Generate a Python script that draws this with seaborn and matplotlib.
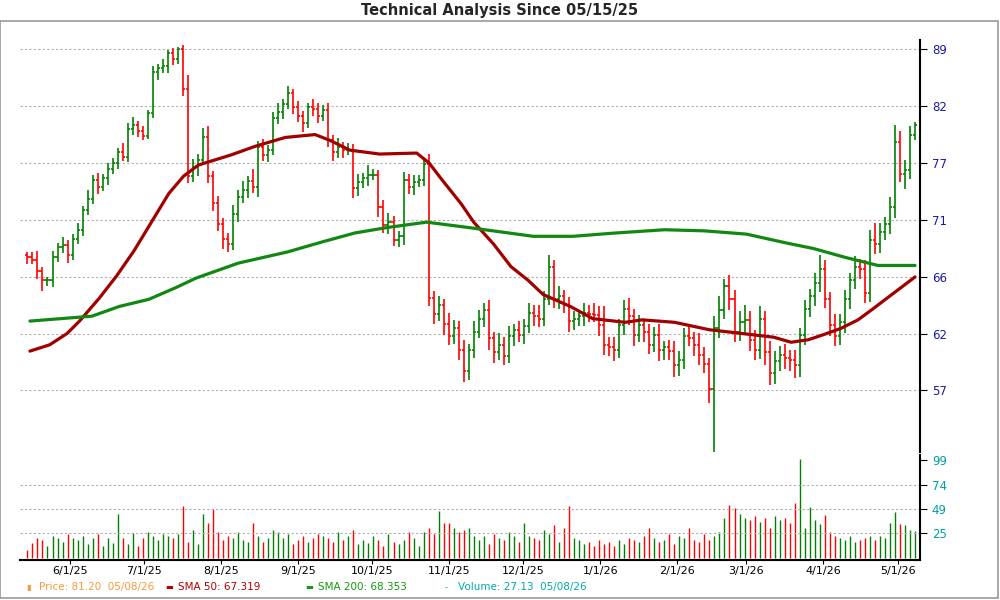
import matplotlib
matplotlib.use("Agg")
import matplotlib.pyplot as plt
import matplotlib.dates as mdates
import numpy as np
import pandas as pd
import seaborn as sns

# closes, about one bar per 5 px
closes = [67.8, 67.6, 66.6, 65.8, 65.8, 67.8, 68.7, 68.9, 68.0, 69.5,
          70.3, 72.1, 73.2, 75.0, 74.3, 75.2, 76.1, 76.7, 77.8, 77.3,
          80.2, 80.6, 80.0, 79.5, 81.9, 86.4, 86.8, 87.0, 88.5, 87.8,
          89.0, 84.5, 75.4, 76.3, 77.0, 79.3, 75.4, 72.8, 70.8, 69.5,
          69.0, 71.8, 73.4, 74.0, 74.9, 74.3, 78.3, 77.5, 78.0, 81.3,
          82.0, 82.8, 84.0, 82.5, 81.5, 80.8, 82.5, 82.3, 81.6, 82.2,
          79.0, 77.8, 78.3, 78.0, 78.0, 74.2, 74.8, 75.2, 75.5, 75.5,
          72.4, 70.7, 71.0, 69.4, 69.7, 75.0, 74.3, 74.8, 75.0, 76.6,
          64.3, 63.0, 63.7, 62.2, 61.2, 61.8, 60.1, 58.5, 60.1, 61.5,
          62.6, 63.3, 61.0, 59.9, 60.5, 59.6, 61.2, 61.7, 61.3, 62.0,
          63.1, 62.8, 62.6, 64.2, 67.0, 64.2, 64.5, 63.7, 62.4, 62.6,
          62.8, 63.1, 63.0, 62.9, 62.1, 60.5, 60.3, 60.1, 62.1, 63.4,
          62.8, 61.3, 62.1, 61.5, 60.5, 61.3, 60.1, 60.3, 60.0, 58.9,
          59.3, 61.2, 61.0, 60.5, 59.7, 59.0, 57.1, 61.8, 63.3, 65.3,
          64.2, 61.5, 62.3, 62.5, 60.9, 60.1, 62.6, 59.9, 58.3, 59.2,
          59.7, 59.5, 59.3, 58.9, 61.3, 63.4, 64.5, 65.6, 66.8, 64.2,
          62.1, 61.2, 62.3, 64.2, 65.8, 67.0, 66.8, 64.7, 69.4, 69.0,
          70.1, 70.8, 72.4, 78.8, 75.6, 76.0, 79.6, 80.6]

wick_up = [0.3, 0.5, 0.8, 0.4, 0.3, 0.6, 0.4, 0.7, 0.5, 0.4,
           0.6, 0.4, 0.8, 0.5, 0.7, 0.4, 0.6, 0.5, 0.4, 0.9,
           0.6, 0.8, 0.4, 0.5, 0.3, 0.6, 0.5, 0.9, 0.4, 0.6,
           0.2, 0.5, 1.5, 0.8, 0.6, 1.0, 1.2, 0.5, 0.7, 0.6,
           0.5, 0.8, 0.6, 0.9, 0.5, 1.2, 0.6, 0.8, 0.5, 0.7,
           0.9, 0.6, 0.8, 0.5, 0.7, 0.6, 0.5, 0.9, 0.6, 0.5,
           0.8, 0.6, 0.9, 0.5, 0.7, 0.6, 0.8, 0.5, 1.0, 0.6,
           0.5, 0.7, 0.9, 0.6, 0.5, 0.8, 0.6, 0.7, 0.5, 0.6,
           1.0, 0.6, 0.8, 0.5, 0.9, 0.7, 0.6, 0.8, 0.5, 0.9,
           0.7, 0.6, 0.8, 0.5, 0.9, 0.6, 0.8, 0.5, 0.7, 0.6,
           0.8, 0.6, 0.9, 0.7, 1.0, 0.6, 0.8, 0.5, 0.7, 0.6,
           0.5, 0.8, 0.6, 0.9, 0.7, 1.5, 0.6, 0.8, 0.5, 0.7,
           0.9, 0.6, 0.8, 0.5, 0.7, 0.6, 0.9, 0.5, 0.6, 0.8,
           0.7, 0.6, 0.8, 0.5, 0.9, 0.6, 0.5, 1.0, 1.2, 0.6,
           1.0, 0.8, 0.9, 1.2, 0.7, 0.8, 1.0, 0.6, 0.9, 0.8,
           0.7, 0.9, 0.6, 0.8, 0.5, 0.7, 0.6, 0.8, 1.2, 0.8,
           0.6, 0.9, 0.7, 0.8, 0.6, 0.9, 0.7, 0.8, 0.9, 1.5,
           0.8, 0.7, 1.0, 1.8, 1.2, 1.0, 0.9, 0.3]

wick_dn = [0.6, 0.4, 0.7, 0.9, 0.5, 0.6, 0.4, 0.5, 0.7, 0.4,
           0.5, 0.6, 0.4, 0.5, 0.6, 0.4, 0.7, 0.5, 0.6, 0.4,
           0.5, 0.6, 0.7, 0.5, 0.4, 0.6, 0.9, 0.5, 0.7, 0.6,
           0.5, 0.8, 0.7, 0.6, 0.9, 0.5, 0.7, 0.8, 0.6, 0.9,
           0.7, 0.5, 0.8, 0.6, 0.7, 0.5, 0.9, 0.6, 0.7, 0.5,
           0.6, 0.8, 0.5, 0.7, 0.6, 0.9, 0.5, 0.7, 0.8, 0.6,
           0.7, 0.9, 0.6, 0.8, 0.5, 0.9, 0.7, 0.6, 0.8, 0.5,
           0.9, 0.7, 0.8, 0.6, 0.7, 0.8, 0.6, 0.7, 0.5, 0.6,
           0.7, 0.8, 0.6, 0.9, 0.7, 0.6, 0.8, 0.9, 0.7, 0.6,
           0.5, 0.7, 0.9, 0.8, 0.6, 0.7, 0.5, 0.8, 0.6, 0.7,
           0.6, 0.8, 0.7, 0.6, 0.5, 0.7, 0.8, 0.6, 0.9, 0.7,
           0.6, 0.8, 0.7, 0.6, 0.9, 0.8, 0.7, 0.9, 0.6, 0.8,
           0.7, 0.9, 0.6, 0.8, 0.7, 0.6, 0.9, 0.8, 0.7, 0.9,
           0.8, 0.7, 0.6, 0.9, 0.8, 0.7, 1.0, 5.2, 0.8, 0.7,
           0.9, 0.8, 0.7, 1.0, 0.9, 0.8, 0.7, 1.0, 0.9, 0.8,
           0.7, 0.9, 0.8, 1.0, 0.9, 0.8, 0.7, 0.9, 0.8, 0.7,
           0.9, 0.8, 0.7, 0.9, 0.8, 0.7, 0.9, 0.8, 0.7, 0.9,
           0.8, 0.7, 0.9, 1.0, 0.8, 1.5, 0.9, 0.6]

volume = [8, 15, 20, 18, 12, 22, 20, 16, 24, 20,
          18, 22, 14, 20, 24, 12, 20, 15, 44, 20,
          14, 25, 12, 20, 26, 22, 18, 24, 22, 20,
          24, 52, 16, 28, 14, 44, 35, 49, 26, 18,
          22, 20, 26, 18, 16, 35, 22, 16, 20, 28,
          26, 20, 24, 14, 18, 22, 16, 20, 24, 22,
          20, 16, 26, 18, 22, 28, 14, 18, 15, 22,
          18, 12, 24, 16, 14, 18, 26, 20, 12, 26,
          30, 24, 47, 35, 35, 30, 26, 28, 30, 22,
          18, 22, 14, 24, 20, 18, 26, 22, 16, 35,
          22, 20, 18, 28, 24, 33, 16, 30, 52, 20,
          18, 14, 16, 12, 18, 14, 16, 12, 18, 14,
          20, 18, 16, 22, 30, 20, 16, 18, 24, 14,
          22, 20, 30, 18, 16, 24, 18, 22, 26, 40,
          53, 50, 44, 40, 38, 42, 36, 40, 30, 42,
          38, 40, 35, 56, 100, 30, 51, 38, 34, 43,
          26, 22, 20, 18, 22, 16, 18, 20, 22, 18,
          22, 20, 35, 46, 34, 33, 28, 27.13]

sma50_dates = ["2025-05-16", "2025-05-24", "2025-05-31", "2025-06-05", "2025-06-13", "2025-06-20",
               "2025-06-27", "2025-07-04", "2025-07-11", "2025-07-17", "2025-07-23", "2025-08-05",
               "2025-08-15", "2025-08-27", "2025-09-08", "2025-09-14", "2025-09-22", "2025-10-04",
               "2025-10-19", "2025-10-24", "2025-10-29", "2025-11-06", "2025-11-11", "2025-11-19",
               "2025-11-26", "2025-12-03", "2025-12-09", "2025-12-20", "2025-12-29", "2026-01-11",
               "2026-01-18", "2026-01-31", "2026-02-14", "2026-02-27", "2026-03-12", "2026-03-19",
               "2026-03-26", "2026-04-01", "2026-04-08", "2026-04-15", "2026-04-21", "2026-04-28",
               "2026-05-08"]
sma50 = [60.0, 60.5, 61.4, 62.4, 64.3, 66.2, 68.4, 71.0, 73.7, 75.4, 76.5, 77.5,
         78.4, 79.3, 79.6, 79.0, 78.0, 77.6, 77.7, 76.7, 75.1, 72.7, 71.0, 69.0,
         67.0, 65.8, 64.6, 63.6, 62.6, 62.3, 62.5, 62.3, 61.7, 61.4, 61.1, 60.7,
         60.9, 61.3, 61.8, 62.5, 63.4, 64.5, 66.1]

sma200_dates = ["2025-05-16", "2025-06-10", "2025-06-21", "2025-07-03", "2025-07-14", "2025-07-22",
                "2025-08-08", "2025-08-28", "2025-09-11", "2025-09-24", "2025-10-07", "2025-10-23",
                "2025-11-09", "2025-11-22", "2025-12-05", "2025-12-21", "2026-01-07", "2026-01-27",
                "2026-02-12", "2026-03-01", "2026-03-17", "2026-03-28", "2026-04-10", "2026-04-23",
                "2026-05-08"]
sma200 = [62.4, 62.8, 63.6, 64.2, 65.2, 66.0, 67.3, 68.3, 69.2, 70.0, 70.5, 71.0,
          70.5, 70.1, 69.7, 69.7, 70.0, 70.3, 70.2, 69.9, 69.1, 68.6, 67.8, 67.1, 67.1]

price_ticks = [57, 62, 66, 71, 77, 82, 89]
vol_ticks = [25, 49, 74, 99]
x_ticks = ["2025-06-01", "2025-07-01", "2025-08-01", "2025-09-01", "2025-10-01", "2025-11-01",
           "2025-12-01", "2026-01-01", "2026-02-01", "2026-03-01", "2026-04-01", "2026-05-01"]

sns.set_style("white")
plt.rcParams['font.family'] = ['DejaVu Sans']

dates = pd.date_range("2025-05-15", "2026-05-08", periods=len(closes))
c = np.array(closes)
o = np.concatenate([[closes[0] + 0.2], c[:-1]])
hi = np.maximum(o, c) + np.array(wick_up)
lo = np.minimum(o, c) - np.array(wick_dn)
cols = np.where(c >= o, "#008000", "#ff0000")

fig = plt.figure(figsize=(10, 6), dpi=100)
ax = fig.add_axes([0.02, 0.2467, 0.90, 0.6867])
axv = fig.add_axes([0.02, 0.0667, 0.90, 0.175], sharex=ax)

# price bars
ax.vlines(dates, lo, hi, colors=cols, lw=1.2)
half = pd.Timedelta(hours=20)
ax.hlines(o, dates - half, dates, colors=cols, lw=1.2)
ax.hlines(c, dates, dates + half, colors=cols, lw=1.2)

sns.lineplot(x=pd.to_datetime(sma50_dates), y=sma50, ax=ax, color="#a00000", lw=2.3)
sns.lineplot(x=pd.to_datetime(sma200_dates), y=sma200, ax=ax, color="#118811", lw=2.3)

ax.set_yscale("log")
ax.set_ylim(52.6, 90.06)
ax.set_yticks([57 * np.exp(k * 0.4456 / 6) for k in range(7)])
ax.set_yticklabels([str(t) for t in price_ticks])
ax.yaxis.set_minor_locator(matplotlib.ticker.NullLocator())
ax.yaxis.tick_right()
ax.grid(axis="y", ls=(0, (2, 2)), color="#b0b0b0", lw=0.8)
ax.tick_params(axis="y", colors="black", labelcolor="#1a1aa0", labelsize=8.5, length=5, direction="out", right=True)
ax.tick_params(axis="x", bottom=False, labelbottom=False)

# volume
axv.vlines(dates, 0, volume, colors=cols, lw=1.0)
axv.set_ylim(-2, 104)
axv.set_yticks(vol_ticks)
axv.yaxis.tick_right()
for t in vol_ticks[:-1]:
    axv.axhline(t, ls=(0, (2, 2)), color="#b0b0b0", lw=0.8)
axv.tick_params(axis="y", colors="black", labelcolor="#00a0a0", labelsize=8.5, length=5, direction="out", right=True)
axv.set_xticks(pd.to_datetime(x_ticks))
axv.xaxis.set_major_formatter(mdates.DateFormatter("%-m/%-d/%y"))
axv.tick_params(axis="x", colors="black", labelcolor="black", labelsize=8, length=3, pad=1.5,
                direction="out", bottom=True)
axv.set_xlim(pd.Timestamp("2025-05-12"), pd.Timestamp("2026-05-10"))

for a in (ax, axv):
    for s in ("left", "top", "bottom"):
        a.spines[s].set_visible(False)
    a.spines["right"].set_color("black")
    a.spines["right"].set_linewidth(1.5)
    a.set_xlabel("")
    a.set_ylabel("")
axv.spines["bottom"].set_visible(True)
axv.spines["bottom"].set_color("black")
axv.spines["bottom"].set_linewidth(1.5)

fig.text(0.5, 0.982, "Technical Analysis Since 05/15/25", ha="center", va="center",
         fontsize=10.5, fontweight="bold")

leg = [(0.026, "#f59a3a", "▮", "Price: 81.20  05/08/26"),
       (0.165, "#b00000", "▬", "SMA 50: 67.319"),
       (0.305, "#119911", "▬", "SMA 200: 68.353"),
       (0.445, "#00aaaa", "-", "Volume: 27.13  05/08/26")]
for xx, col, mk, txt in leg:
    fig.text(xx, 0.021, mk, color=col, fontsize=6, ha="left", va="center")
    fig.text(xx + 0.013, 0.021, txt, color=col, fontsize=7.5, ha="left", va="center")

fig.patches.append(plt.Rectangle((0.0, 0.003), 0.998, 0.962, transform=fig.transFigure,
                                 fill=False, edgecolor="#999999", lw=1.2))

fig.savefig("out.png", dpi=100)
